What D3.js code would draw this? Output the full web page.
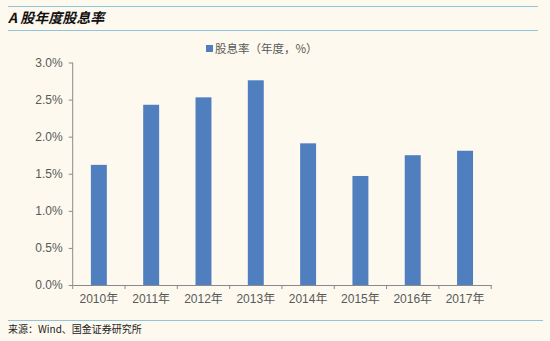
<!DOCTYPE html>
<html><head><meta charset="utf-8">
<script src="https://cdn.jsdelivr.net/npm/d3@7/dist/d3.min.js"></script>
<style>
html,body{margin:0;padding:0;background:#fdf9ef;}
svg{display:block;}
</style></head>
<body>
<script>
const categories = ["2010年","2011年","2012年","2013年","2014年","2015年","2016年","2017年"];
const values = [1.62, 2.43, 2.53, 2.76, 1.91, 1.47, 1.75, 1.81];
const yTicks = [0, 0.5, 1.0, 1.5, 2.0, 2.5, 3.0];
const seriesName = "股息率（年度，%）";
const title = "A 股年度股息率";
const source = "来源：Wind、国金证券研究所";

const W = 550, H = 341;
const svg = d3.select("body").append("svg").attr("width", W).attr("height", H);
svg.append("rect").attr("width", W).attr("height", H).attr("fill", "#fdf9ef");

const lineColor = "#8fc4da";
svg.append("line").attr("x1", 8).attr("x2", 538).attr("y1", 6.5).attr("y2", 6.5).attr("stroke", lineColor).attr("stroke-width", 1.2);
svg.append("line").attr("x1", 8).attr("x2", 538).attr("y1", 30.5).attr("y2", 30.5).attr("stroke", lineColor).attr("stroke-width", 1.2);
svg.append("line").attr("x1", 8).attr("x2", 543).attr("y1", 320.5).attr("y2", 320.5).attr("stroke", lineColor).attr("stroke-width", 1.2);

svg.append("text").attr("x", 8).attr("y", 23)
  .attr("font-family", "'Noto Sans CJK SC', sans-serif").attr("font-size", 14)
  .attr("font-weight", "bold").attr("font-style", "italic").attr("fill", "#111")
  .text(title);

svg.append("text").attr("x", 8).attr("y", 333)
  .attr("font-family", "'Noto Sans CJK SC', sans-serif").attr("font-size", 10)
  .attr("fill", "#222").text(source);

const x = d3.scaleBand().domain(categories).range([72.7, 491.2]).paddingInner(0.695).paddingOuter(0.3475);
const y = d3.scaleLinear().domain([0, 3.0]).range([285, 62.5]);

const g = svg.append("g");

g.selectAll("rect.bar").data(values).join("rect").attr("class", "bar")
  .attr("x", (d, i) => x(categories[i]))
  .attr("width", x.bandwidth())
  .attr("y", d => y(d))
  .attr("height", d => y(0) - y(d))
  .attr("fill", "#4f7fbf");

const yAxis = d3.axisLeft(y).tickValues(yTicks).tickFormat(d => d.toFixed(1) + "%").tickSize(4).tickPadding(6);
const ya = g.append("g").attr("transform", "translate(72.7,0)").call(yAxis);
ya.selectAll("path, line").attr("stroke", "#8a8a8a");
ya.select(".domain").attr("d", "M0," + y(3.0) + "V" + y(0));
ya.selectAll("text").attr("font-family", "Arial, 'Liberation Sans', sans-serif").attr("font-size", 12).attr("fill", "#595959");

const xa = g.append("g").attr("transform", "translate(0," + y(0) + ")")
  .call(d3.axisBottom(x).tickSize(0).tickPadding(9));
xa.select(".domain").attr("stroke", "#8a8a8a");
xa.selectAll("text").attr("font-family", "Arial, 'Liberation Sans', 'Noto Sans CJK SC', sans-serif").attr("font-size", 12).attr("fill", "#595959");
const step = x.step();
const bounds = d3.range(categories.length + 1).map(i => x.range()[0] + i * step);
g.selectAll("line.ct").data(bounds).join("line").attr("class", "ct")
  .attr("x1", d => d).attr("x2", d => d).attr("y1", y(0)).attr("y2", y(0) + 4)
  .attr("stroke", "#8a8a8a");

const lg = svg.append("g").attr("transform", "translate(206,44)");
lg.append("rect").attr("x", 0).attr("y", 1).attr("width", 7).attr("height", 7).attr("fill", "#4f7fbf");
lg.append("text").attr("x", 9).attr("y", 9)
  .attr("font-family", "'Noto Sans CJK SC', sans-serif").attr("font-size", 11.5).attr("fill", "#595959")
  .text(seriesName);
</script>
</body></html>
